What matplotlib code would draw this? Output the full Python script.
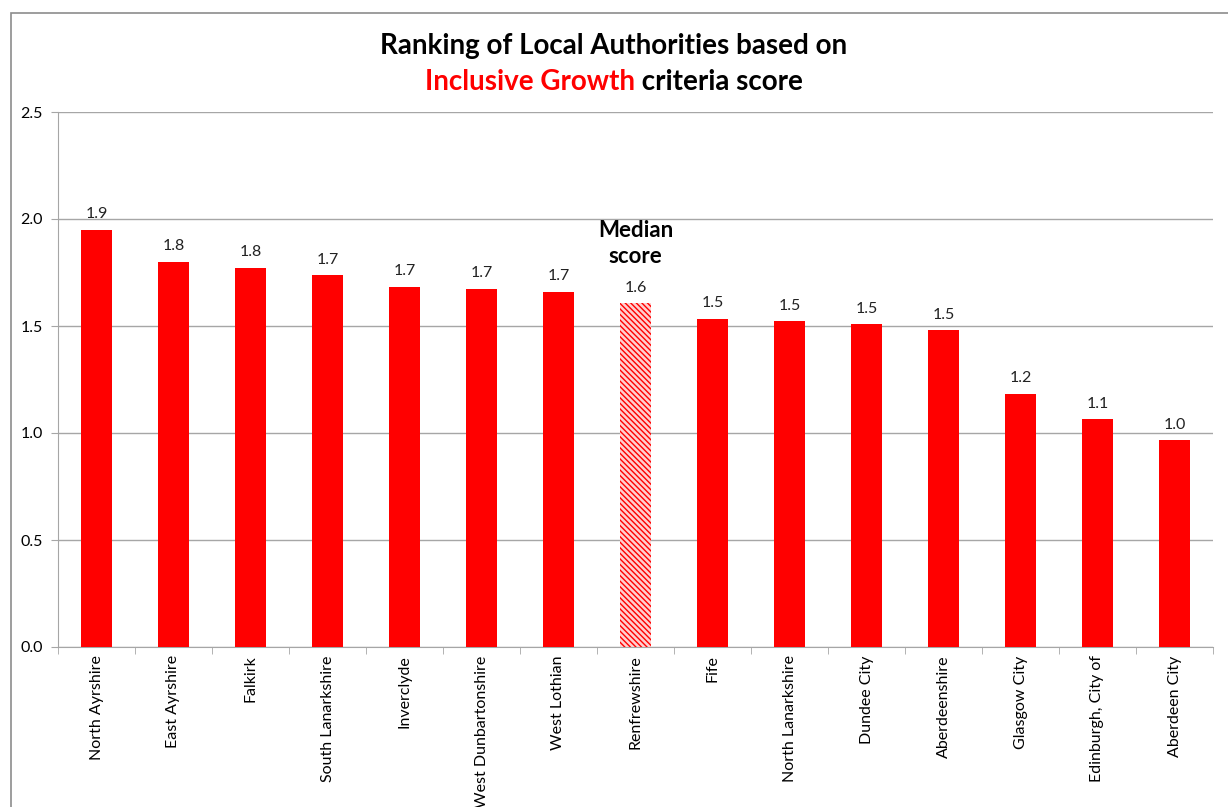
import matplotlib
matplotlib.use("Agg")
import matplotlib.pyplot as plt
from matplotlib.patches import Rectangle
import numpy as np

# Data
authorities = ["North Ayrshire", "East Ayrshire", "Falkirk", "South Lanarkshire",
               "Inverclyde", "West Dunbartonshire", "West Lothian", "Renfrewshire",
               "Fife", "North Lanarkshire", "Dundee City", "Aberdeenshire",
               "Glasgow City", "Edinburgh, City of", "Aberdeen City"]
scores = [1.949, 1.799, 1.771, 1.738, 1.682, 1.673, 1.659, 1.607,
          1.533, 1.523, 1.509, 1.481, 1.182, 1.065, 0.967]
median_name = "Renfrewshire"
y_ticks = [0.0, 0.5, 1.0, 1.5, 2.0, 2.5]

plt.rcParams['font.family'] = ['Lato', 'DejaVu Sans']
plt.rcParams['hatch.linewidth'] = 1.0

W, H = 1228, 807
fig = plt.figure(figsize=(W / 100, H / 100), dpi=100)
ax = fig.add_axes([58 / W, 1 - 647 / H, (1213 - 58) / W, (647 - 112) / H])

# chart frame (runs off the right and bottom edges like the screenshot)
fig.patches.append(Rectangle((11 / W, -0.05), 1.2, 1 - 13 / H + 0.05,
                             transform=fig.transFigure, fill=False,
                             edgecolor='#8c8c8c', linewidth=1.2))

x = np.arange(len(authorities))
for i, (name, val) in enumerate(zip(authorities, scores)):
    if name == median_name:
        ax.bar(i, val, width=0.4, color='#ffd0d0', edgecolor='red',
               hatch='\\\\\\\\\\\\', linewidth=0, zorder=3)
    else:
        ax.bar(i, val, width=0.4, color='red', zorder=3)
    ax.text(i, val + 0.04, f"{val:.1f}", ha='center', va='bottom',
            fontsize=11.5, color='#222222')

mi = authorities.index(median_name)
ax.text(mi, scores[mi] + 0.17, "Median\nscore", ha='center', va='bottom',
        fontsize=16, fontweight='bold', linespacing=1.25)

ax.set_xlim(-0.5, len(authorities) - 0.5)
ax.set_ylim(0, 2.5)
ax.set_yticks(y_ticks)
ax.set_yticklabels([f"{t:.1f}" for t in y_ticks], fontsize=11.5)
ax.yaxis.grid(True, color='#a6a6a6', linewidth=1)
ax.set_axisbelow(True)

ax.set_xticks(x)
ax.set_xticklabels(authorities, rotation=90, fontsize=11.5, va='top')
ax.tick_params(axis='x', length=0, pad=6)
ax.set_xticks(np.arange(-0.5, len(authorities), 1.0), minor=True)
ax.tick_params(axis='x', which='minor', length=5, color='#a6a6a6', direction='out')
ax.tick_params(axis='y', length=5, color='#a6a6a6', direction='out', pad=6)

for s in ['top', 'right']:
    ax.spines[s].set_visible(False)
for s in ['left', 'bottom']:
    ax.spines[s].set_color('#a6a6a6')

# title: two lines, "Inclusive Growth" in red
fig.text(0.5, 1 - 46 / H, "Ranking of Local Authorities based on", ha='center',
         va='center', fontsize=20, fontweight='bold')
t1 = fig.text(0.5, 1 - 82 / H, "Inclusive Growth", ha='left', va='center',
              fontsize=20, fontweight='bold', color='red')
t2 = fig.text(0.5, 1 - 82 / H, " criteria score", ha='left', va='center',
              fontsize=20, fontweight='bold', color='black')
fig.canvas.draw()
r = fig.canvas.get_renderer()
w1 = t1.get_window_extent(r).width / W
w2 = t2.get_window_extent(r).width / W
start = 0.5 - (w1 + w2) / 2
t1.set_x(start)
t2.set_x(start + w1)

fig.savefig("out.png", dpi=100)
